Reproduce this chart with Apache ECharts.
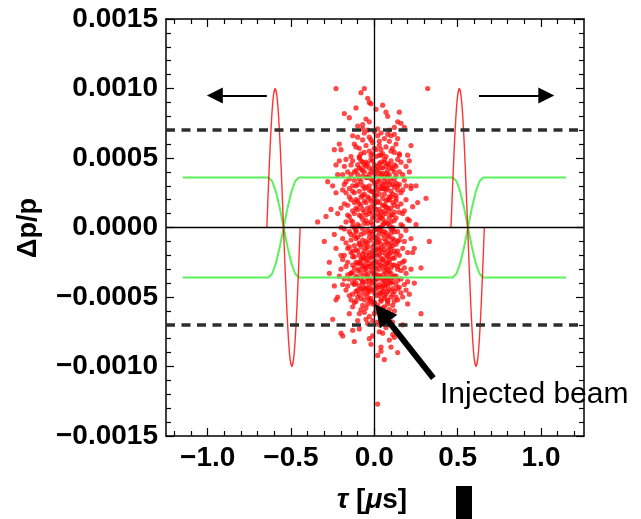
<!DOCTYPE html>
<html><head><meta charset="utf-8">
<script src="https://cdn.jsdelivr.net/npm/echarts@6/dist/echarts.min.js"></script>
<style>html,body{margin:0;padding:0;background:#fff}#c{width:641px;height:519px}</style>
</head><body><div id="c"></div>
<script>
// ---------- axis ticks ----------
const xMajorTicks = [-1.0, -0.5, 0.0, 0.5, 1.0];
const xMinorTicks = [-1.2,-1.1,-0.9,-0.8,-0.7,-0.6,-0.4,-0.3,-0.2,-0.1,0.1,0.2,0.3,0.4,0.6,0.7,0.8,0.9,1.1,1.2];
const yMajorTicks = [-0.0015,-0.0010,-0.0005,0,0.0005,0.0010,0.0015];
const yMinorTicks = [-0.0014,-0.0013,-0.0012,-0.0011,-0.0009,-0.0008,-0.0007,-0.0006,-0.0004,-0.0003,-0.0002,-0.0001,
                     0.0001,0.0002,0.0003,0.0004,0.0006,0.0007,0.0008,0.0009,0.0011,0.0012,0.0013,0.0014];

// ---------- RF (red) curves : tau [us] and dp/p (x 1e-3) ----------
const rfTauLeft  = [-0.645,-0.635,-0.625,-0.615,-0.605,-0.595,-0.585,-0.575,-0.565,-0.555,-0.545,-0.535,-0.525,-0.515,-0.505,-0.495,-0.485,-0.475,-0.465,-0.455,-0.445];
const rfTauRight = [0.460,0.470,0.480,0.490,0.500,0.510,0.520,0.530,0.540,0.550,0.560,0.570,0.580,0.590,0.600,0.610,0.620,0.630,0.640,0.650,0.660];
const rfDp = [0,0.309,0.588,0.809,0.951,1.0,0.951,0.809,0.588,0.309,0,-0.309,-0.588,-0.809,-0.951,-1.0,-0.951,-0.809,-0.588,-0.309,0];

// ---------- bucket (green) curves : tau [us] and dp/p (x 1e-3) ----------
const bucketTau = [-1.15,-0.636,-0.613,-0.590,-0.567,-0.544,-0.521,-0.498,-0.475,-0.452,
                    0.470,0.493,0.516,0.539,0.562,0.585,0.608,0.631,0.654,1.15];
const bucketDpA = [0.36,0.36,0.333,0.255,0.138,0,-0.138,-0.255,-0.333,-0.36,
                   -0.36,-0.333,-0.255,-0.138,0,0.138,0.255,0.333,0.36,0.36];
const bucketDpB = [-0.36,-0.36,-0.333,-0.255,-0.138,0,0.138,0.255,0.333,0.36,
                    0.36,0.333,0.255,0.138,0,-0.138,-0.255,-0.333,-0.36,-0.36];

// ---------- momentum acceptance (dashed) ----------
const acceptanceDp = [0.0007, -0.0007];

// ---------- injected beam : pairs of tau (x 0.01 us), dp/p (x 1e-5) ----------
const beamPairs = [
// core
-3,12, 5,-34, 9,22, -11,-8, 2,41, -6,-27, 12,5, -1,-45, 7,30, -9,17, 4,-12, -4,36, 10,-40, 0,8, -7,-19, 6,47, -12,25, 3,-3, -2,-31, 8,14,
11,-22, -5,44, 1,-49, -10,2, 6,-16, -8,33, 2,19, -3,-38, 9,-7, -6,11, 4,28, -11,-35, 7,-26, 0,39, -1,-14, 12,-46, -4,3, 5,21, -9,-42, 3,46,
10,9, -7,-1, 1,-24, -12,-29, 8,37, -2,15, 6,-44, -5,-10, 11,31, 0,-20, -8,48, 4,-36, 9,1, -10,-17, 2,-6, -3,27, 7,-48, -6,40, 12,16, -1,-33,
5,6, -11,20, 3,-41, -4,-23, 10,43, 0,-2, 8,-30, -9,35, 1,13, -7,-45, 6,24, -2,-9, 11,-13, -5,29, 4,-47, -12,10, 9,38, -3,-18, 2,-37, 7,4,
-8,-5, 0,32, 5,-28, -10,45, 12,-35, -6,-43, 3,18, -1,7, 8,-21, -4,-34, 10,26, -9,-12, 1,42, 6,-8, -11,-40, 4,11, -2,49, 9,-25, -7,23, 11,-1,
-5,-32, 0,-47, 3,34, -12,-21, 7,15, -3,-4, 5,39, -8,-37, 2,-15, 10,-50, -6,19, 12,29, -1,26, 8,-11, -10,-26, 4,-43, -4,14, 1,-30, 6,33, -9,-48,
11,9, -2,-22, 3,0, -7,37, 9,-39, 0,17, -5,-15, 7,-33, -11,30, 5,-5, 2,44, -3,-46, 10,-18, -8,8, 12,-9, -6,-35, 1,23, 4,-27, -12,40, 8,46,
-1,-40, 6,-3, -4,-11, 11,18, -9,1, 3,-19, 0,-36, 7,27, -2,35, 5,-42, -10,13, 9,-14, -7,-28, 2,5, -5,47, 10,34, -3,21, 12,-27, -8,-23, 4,43,
1,-8, -11,-3, 6,-38, -6,28, 8,3, 0,-25, -1,48, 3,-49, 11,-44, -4,-44, 7,10, -12,-13, 5,16, -9,26, 9,20, -2,-28, 2,-43, -7,6, 10,-4, 4,38,
-5,-20, 12,40, -10,-36, 1,31, 6,12, -3,-7, -8,42, 8,-17, 0,25, -6,-48, 11,24, 3,8, -11,-46, 7,-41, -1,-17, 5,28, -4,46, 9,-32, -12,18, 2,-20,
-7,-39, 10,22, -2,4, 6,-24, -9,-30, 4,0, 12,11, -5,9, 1,-37, 8,41, -3,38, 0,-12, -10,-7, 3,-30, 11,-36, -6,3, 7,44, -8,-14, 5,-46, -1,34,
9,7, -4,-2, 2,27, -11,14, 10,-29, -7,-22, 6,49, -12,-41, 4,-15, 0,45, -2,-44, 8,-38, 3,13, -9,-20, 12,-17, 1,37, -5,-39, 7,19, -3,-26, 11,42,
-6,-12, 5,2, -10,31, 9,-45, 2,-10, -8,22, 0,-29, -1,11, 6,-49, 4,30, -4,-47, 10,-11, -7,41, 3,-35, 12,35, -11,-25, 8,-6, 1,-1, -2,-37, 5,-18,
-9,43, 7,-10, -5,18, 11,-48, -12,0, 0,20, 9,-23, -3,43, 2,-34, 6,16, -6,-30, 4,47, -10,-45, 10,-1, -8,-33, 1,-42, 3,24, -1,-21, 8,28,
// core (second pass)
4,-2, -7,13, 1,29, 10,-15, -3,-41, 6,36, -12,-6, 8,-52, -1,2, 13,21, -5,-29, 2,-11, -9,50, 11,-39, 0,-54, -6,24, 7,-20, -2,40, 5,9, -13,-17,
9,31, -4,-50, 12,-3, -8,-26, 3,52, -10,19, 1,-44, 6,-31, -3,30, 14,-10, -7,-40, 0,14, 8,-46, -11,41, 4,-22, -1,-5, 10,48, -5,5, 2,-27, -14,-33,
9,-36, -2,-51, 7,39, -9,-11, 3,-16, 12,-53, -6,-4, 5,43, 0,-39, -12,34, 11,0, -4,22, 6,-13, -8,-51, 1,18, -3,-20, 13,32, -10,-31, 8,20, -1,-26,
4,52, -7,30, 10,-33, -5,-44, 2,-1, 9,12, -13,4, 3,-47, -6,45, 7,-4, 0,-18, -11,-16, 5,-38, -2,26, 12,-22, -9,9, 1,51, 6,3, -4,-36, 14,27,
-8,16, 3,-9, 11,-27, -1,42, 8,-42, -6,-22, 2,33, -10,-50, 0,-7, 5,-23, -3,10, 9,45, -12,-37, 7,-29, -5,36, 4,-53, 10,14, -7,-9, 1,-16, -2,19,
13,-41, -9,-25, 6,28, 0,-33, 3,39, -4,-14, 11,-8, -8,-44, 2,10, -1,-55, 8,-26, -6,-17, 5,31, -11,-2, 12,45, 0,23, -3,-52, 7,-36, -13,26, 4,7,
-5,-24, 9,-19, 1,-35, -10,38, 6,-41, -2,-3, 14,-30, -7,47, 3,-25, 10,4, -4,-28, 8,33,
// ring
-14,5, 15,-20, -17,33, 13,44, -13,-40, 18,12, -19,-8, 16,-47, -15,22, 14,30, -16,-25, 19,-33, -13,48, 17,1, -18,17, 13,-12, -14,-52, 15,40,
-20,-30, 16,25, -15,-3, 18,-41, -17,-45, 14,-28, -13,12, 20,6, -16,40, 13,-35, -19,27, 17,-15, -14,-18, 15,52, -18,-37, 16,-6, -15,35, 19,20,
-13,-27, 14,15, -17,-11, 18,34, -16,9, 13,-50, -14,45, 17,-25, -20,0, 15,-9, -13,-48, 16,47, -18,-20, 14,-44, -15,28, 19,-2, -17,4, 13,23,
-14,-33, 18,-29, -16,-42, 15,11, -19,38, 17,38, -13,1, 14,-38, -15,-14, 20,-18, -18,31, 16,-31, -14,20, 13,7, -16,-34, 17,27, -13,-21, 15,-43,
-17,25, 19,44, -15,-49, 14,-3, -18,-1, 16,17, -14,-9, 18,-10, -19,-23, 13,37, -16,16, 15,-26, -13,30, 17,-50, -17,-28, 14,49, -15,8, 20,-39,
-14,38, 16,2, -18,44, 13,-19, -16,-15, 19,-45, -13,-32, 15,31, -20,14, 17,10, -15,-37, 14,-17, -17,49, 18,-24, -14,-5, 16,-37, -19,-41, 13,19,
// caps
-3,55, 5,-58, 9,62, -11,-53, 2,66, -6,-61, 12,54, -1,-67, 7,58, -9,51, 4,-52, -4,70, 10,-63, 0,57, -7,-56, 6,64, -12,60, 3,-70, -2,52, 8,-55,
11,-68, -5,59, 1,-60, -10,65, 6,-51, -8,53, 2,71, -3,-64, 9,-59, -6,68, 4,56, -13,-57, 7,-65, 0,-54, -1,61, 14,-52, -4,-69, 5,53, -9,-62, 3,59,
10,55, -7,63, 1,-57, -14,51, 8,67, -2,-53, 6,-66, -5,-58, 11,57, 0,69, -8,-59, 4,-61, 13,60, -11,58, 2,-56, -3,65, 7,-72, -6,54, 12,-60, -1,53,
5,-64, -10,-67, 3,62, -4,-55, 9,70, 0,-62, 8,-53, -12,-54, 1,56, -7,71, 6,-57, -2,63, -15,-62, 15,53, -9,57, 10,-70, 4,68, -5,-66, 11,-56, -13,66,
2,-68, 7,51, -6,-52, 14,64,
// halo
-22,10, 23,-18, -21,-35, 22,28, -24,-5, 21,40, -23,25, 24,-40, -21,48, 22,-8, -22,-50, 21,5, -25,30, 23,15, -20,-20, 20,-55, -21,60, 22,-30,
-24,-42, 25,2, -22,38, 20,52, -23,-15, 21,-48,
// sparse 70-95
-5,78, 3,-75, 8,80, -12,-82, 1,85, -7,74, 11,-77, -2,-84, 14,76, -9,-73, 5,88, -15,79, 2,-92, 9,-81, -4,93, 12,72, -1,-78, 6,-95, -11,86, 17,-70,
// outer
-23,100, -8,97, -6,100, 32,100, -3,90, -2,89, -18,82, 7,83, 15,83, -3,76, -10,73, 16,75, 18,72, 10,66, 12,67, 22,59, -24,56, -20,56, 21,48,
-23,45, -28,33, 25,30, 19,30, -34,4, 33,-10, 31,21, 22,30, 26,18, -30,-10, -27,-25, -27,-33, -26,13, -29,8, 24,-15, 28,-29, -23,-52, -25,-66,
-20,-76, -19,-78, -13,-74, -3,-80, 4,-86, 4,-89, 10,-86, 14,-90, 12,-79, 28,-62, 5,-76, 2,-127
];

// ---------- annotation anchors (data coords) ----------
const arrowLeft  = [[-0.645, 0.00095], [-0.957, 0.00095]];
const arrowRight = [[0.628, 0.00095], [1.032, 0.00095]];
const arrowBeam  = [[0.354, -0.001084], [0.045, -0.000614]];
const beamLabelAt = [0.394, -0.0012];
const beamLabel = 'Injected beam';

// ---------- build ----------
const FONT = "'Liberation Sans', Arial, Helvetica, sans-serif";
const beamData = [];
for (let i = 0; i < beamPairs.length; i += 2) beamData.push([beamPairs[i] / 100, beamPairs[i + 1] * 1e-5]);
const zip = (xs, ys, s) => xs.map((x, i) => [x, ys[i] * s]);

const XMIN = -1.25, XMAX = 1.258, YMIN = -0.0015, YMAX = 0.0015;
const fmtNum = (v, d) => (v < 0 ? '\u2212' : '') + Math.abs(v).toFixed(d);

function xAx(pos, ticks, len, withLabels, withLine) {
  return {
    type: 'value', position: pos, min: XMIN, max: XMAX,
    splitLine: { show: false },
    axisLine: { show: withLine, onZero: false, lineStyle: { color: '#000', width: 1.5 } },
    axisTick: { show: true, inside: true, length: len, customValues: ticks, lineStyle: { color: '#000', width: 1.2 } },
    axisLabel: withLabels ? { show: true, customValues: ticks, margin: 8, color: '#000',
      fontFamily: FONT, fontWeight: 'bold', fontSize: 28, formatter: v => fmtNum(v, 1) } : { show: false },
    axisPointer: { show: false }
  };
}
function yAx(pos, ticks, len, withLabels, withLine) {
  return {
    type: 'value', position: pos, min: YMIN, max: YMAX,
    splitLine: { show: false },
    axisLine: { show: withLine, onZero: false, lineStyle: { color: '#000', width: 1.5 } },
    axisTick: { show: true, inside: true, length: len, customValues: ticks, lineStyle: { color: '#000', width: 1.2 } },
    axisLabel: withLabels ? { show: true, customValues: ticks, margin: 8, color: '#000',
      fontFamily: FONT, fontWeight: 'bold', fontSize: 28, formatter: v => fmtNum(v, 4) } : { show: false },
    axisPointer: { show: false }
  };
}

const chart = echarts.init(document.getElementById('c'), null, { renderer: 'canvas' });
const option = {
  animation: false,
  backgroundColor: '#fff',
  grid: { left: 166, top: 19, width: 418, height: 417, containLabel: false, outerBoundsMode: 'none' },
  xAxis: [
    xAx('bottom', xMajorTicks, 8, true, true),
    xAx('bottom', xMinorTicks, 5, false, false),
    xAx('top', xMajorTicks, 8, false, true),
    xAx('top', xMinorTicks, 5, false, false)
  ],
  yAxis: [
    yAx('left', yMajorTicks, 8, true, true),
    yAx('left', yMinorTicks, 5, false, false),
    yAx('right', yMajorTicks, 8, false, true),
    yAx('right', yMinorTicks, 5, false, false)
  ],
  series: [
    { name: 'beam', type: 'scatter', data: beamData, symbol: 'circle', symbolSize: 5.2,
      itemStyle: { color: 'rgba(255,10,10,0.92)' }, z: 2, silent: true },
    { name: 'bucketA', type: 'line', data: zip(bucketTau, bucketDpA, 1e-3), showSymbol: false, symbol: 'none',
      lineStyle: { color: '#5cf05c', width: 2 }, z: 4, silent: true },
    { name: 'bucketB', type: 'line', data: zip(bucketTau, bucketDpB, 1e-3), showSymbol: false, symbol: 'none',
      lineStyle: { color: '#5cf05c', width: 2 }, z: 4, silent: true },
    { name: 'rfLeft', type: 'line', data: zip(rfTauLeft, rfDp, 1e-3), showSymbol: false, symbol: 'none', smooth: 0.2,
      lineStyle: { color: 'rgba(255,0,0,0.8)', width: 1.4 }, z: 4, silent: true },
    { name: 'rfRight', type: 'line', data: zip(rfTauRight, rfDp, 1e-3), showSymbol: false, symbol: 'none', smooth: 0.2,
      lineStyle: { color: 'rgba(255,0,0,0.8)', width: 1.4 }, z: 4, silent: true },
    { name: 'refLines', type: 'line', data: [], z: 5, silent: true,
      markLine: { silent: true, symbol: 'none', precision: 10, label: { show: false }, emphasis: { disabled: true },
        data: [
          { xAxis: 0, lineStyle: { color: '#000', width: 1.3, type: 'solid' } },
          { yAxis: 0, lineStyle: { color: '#000', width: 1.3, type: 'solid' } },
          { yAxis: acceptanceDp[0], lineStyle: { color: '#2e2e2e', width: 3.6, type: [9, 6.5] } },
          { yAxis: acceptanceDp[1], lineStyle: { color: '#2e2e2e', width: 3.6, type: [9, 6.5] } }
        ] } },
    { name: 'arrows', type: 'line', data: [], z: 6, silent: true,
      markLine: { silent: true, symbol: ['none', 'triangle'], symbolSize: 16, precision: 10, label: { show: false },
        emphasis: { disabled: true }, lineStyle: { color: '#000', width: 2, type: 'solid' },
        itemStyle: { color: '#000' },
        data: [
          [{ coord: arrowLeft[0] }, { coord: arrowLeft[1] }],
          [{ coord: arrowRight[0] }, { coord: arrowRight[1] }]
        ] } },
    { name: 'beamArrow', type: 'line', data: [], z: 6, silent: true,
      markLine: { silent: true, symbol: ['none', 'triangle'], symbolSize: 22, precision: 10, label: { show: false },
        emphasis: { disabled: true }, lineStyle: { color: '#000', width: 6, type: 'solid' },
        itemStyle: { color: '#000' },
        data: [
          [{ coord: arrowBeam[0] }, { coord: arrowBeam[1] }]
        ] } }
  ]
};
chart.setOption(option);

const lp = chart.convertToPixel({ gridIndex: 0 }, beamLabelAt);
chart.setOption({
  graphic: [
    { type: 'text', x: lp[0], y: lp[1], z: 10, silent: true,
      style: { text: beamLabel, fill: '#000', font: '30px ' + FONT, align: 'left', verticalAlign: 'middle' } },
    { type: 'text', x: 29, y: 228, rotation: Math.PI / 2, z: 10, silent: true,
      style: { text: '\u0394p/p', fill: '#000', font: 'bold 27px ' + FONT, align: 'center', verticalAlign: 'middle' } },
    { type: 'text', x: 372, y: 500, z: 10, silent: true,
      style: { text: '{i|\u03c4} {n|[}{i|\u03bc}{n|s]}', fill: '#000', align: 'center', verticalAlign: 'middle',
        font: 'bold 28px ' + FONT,
        rich: {
          i: { fontStyle: 'italic', fontWeight: 'bold', fontSize: 28, fontFamily: FONT, fill: '#000' },
          n: { fontStyle: 'normal', fontWeight: 'bold', fontSize: 28, fontFamily: FONT, fill: '#000' }
        } } },
    { type: 'rect', shape: { x: 456, y: 486, width: 16, height: 33 }, style: { fill: '#000' }, z: 10, silent: true }
  ]
});
</script>
</body></html>
